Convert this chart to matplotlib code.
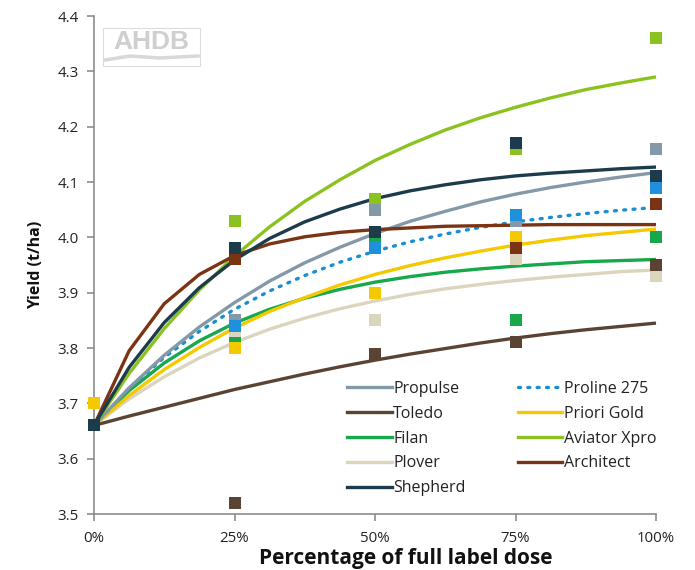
import matplotlib
matplotlib.use("Agg")
import matplotlib.pyplot as plt
from matplotlib.patches import Rectangle
from matplotlib.lines import Line2D

plt.rcParams['font.family'] = ['Open Sans', 'DejaVu Sans']

# ---- data ----
dose_pts = [0, 25, 50, 75, 100]
x_tick_labels = ['0%', '25%', '50%', '75%', '100%']
curve_x = [0, 6.25, 12.5, 18.75, 25, 31.25, 37.5, 43.75, 50,
           56.25, 62.5, 68.75, 75, 81.25, 87.5, 93.75, 100]

names = ['Propulse', 'Proline 275', 'Toledo', 'Priori Gold', 'Filan',
         'Aviator Xpro', 'Plover', 'Architect', 'Shepherd']

# observed yields (markers)
obs_propulse = [3.66, 3.85, 4.05, 4.03, 4.16]
obs_proline = [3.66, 3.84, 3.98, 4.04, 4.09]
obs_toledo = [3.66, 3.52, 3.79, 3.81, 3.95]
obs_priori = [3.70, 3.80, 3.90, 4.00, 3.94]
obs_filan = [3.66, 3.82, 3.99, 3.85, 4.00]
obs_aviator = [3.66, 4.03, 4.07, 4.16, 4.36]
obs_plover = [3.66, 3.83, 3.85, 3.96, 3.93]
obs_architect = [3.66, 3.96, 4.01, 3.98, 4.06]
obs_shepherd = [3.66, 3.98, 4.01, 4.17, 4.11]

# fitted response curves
fit_propulse = [3.66, 3.728, 3.787, 3.838, 3.882, 3.921, 3.954, 3.982, 4.007,
                4.029, 4.047, 4.064, 4.078, 4.090, 4.100, 4.109, 4.117]
fit_proline = [3.66, 3.727, 3.783, 3.830, 3.870, 3.903, 3.931, 3.955, 3.975,
               3.992, 4.006, 4.018, 4.028, 4.036, 4.043, 4.049, 4.054]
fit_toledo = [3.66, 3.677, 3.693, 3.709, 3.725, 3.739, 3.753, 3.766, 3.778,
              3.789, 3.799, 3.809, 3.818, 3.826, 3.833, 3.839, 3.845]
fit_priori = [3.66, 3.714, 3.761, 3.801, 3.836, 3.866, 3.891, 3.914, 3.933,
              3.949, 3.963, 3.975, 3.986, 3.995, 4.003, 4.009, 4.015]
fit_filan = [3.66, 3.723, 3.773, 3.813, 3.845, 3.870, 3.890, 3.906, 3.919,
             3.929, 3.937, 3.943, 3.948, 3.952, 3.956, 3.958, 3.960]
fit_aviator = [3.66, 3.754, 3.835, 3.905, 3.966, 4.019, 4.065, 4.104, 4.139,
               4.168, 4.194, 4.216, 4.235, 4.252, 4.267, 4.279, 4.290]
fit_plover = [3.66, 3.708, 3.748, 3.782, 3.810, 3.834, 3.854, 3.871, 3.885,
              3.897, 3.907, 3.915, 3.922, 3.928, 3.933, 3.938, 3.941]
fit_architect = [3.66, 3.795, 3.880, 3.933, 3.967, 3.988, 4.001, 4.009, 4.014,
                 4.017, 4.020, 4.021, 4.022, 4.023, 4.023, 4.023, 4.023]
fit_shepherd = [3.66, 3.765, 3.846, 3.909, 3.959, 3.998, 4.028, 4.051, 4.070,
                4.084, 4.095, 4.104, 4.111, 4.116, 4.120, 4.124, 4.127]

y_ticks = [3.5, 3.6, 3.7, 3.8, 3.9, 4.0, 4.1, 4.2, 4.3, 4.4]

# ---- styles ----
line_colors = {
    'Propulse': '#8499a8', 'Proline 275': '#1a8fd0', 'Toledo': '#5a4333',
    'Priori Gold': '#f5c900', 'Filan': '#17a84b', 'Aviator Xpro': '#8cc220',
    'Plover': '#dcd5bd', 'Architect': '#7b3413', 'Shepherd': '#1c3b4b'}
marker_colors = dict(line_colors)
marker_colors['Proline 275'] = '#1e90dc'

obs = {'Propulse': obs_propulse, 'Proline 275': obs_proline, 'Toledo': obs_toledo,
       'Priori Gold': obs_priori, 'Filan': obs_filan, 'Aviator Xpro': obs_aviator,
       'Plover': obs_plover, 'Architect': obs_architect, 'Shepherd': obs_shepherd}
fits = {'Propulse': fit_propulse, 'Proline 275': fit_proline, 'Toledo': fit_toledo,
        'Priori Gold': fit_priori, 'Filan': fit_filan, 'Aviator Xpro': fit_aviator,
        'Plover': fit_plover, 'Architect': fit_architect, 'Shepherd': fit_shepherd}

DOT = (0, (0.6, 2.2))

fig = plt.figure(figsize=(6.95, 5.70), dpi=100)
ax = fig.add_axes([94/695, 1-514/570, (656-94)/695, (514-16)/570])

line_order = ['Plover', 'Toledo', 'Filan', 'Priori Gold', 'Proline 275',
              'Propulse', 'Aviator Xpro', 'Architect', 'Shepherd']
for n in line_order:
    if n == 'Proline 275':
        ax.plot(curve_x, fits[n], color=line_colors[n], lw=2.4,
                linestyle=DOT, dash_capstyle='round', zorder=2)
    else:
        ax.plot(curve_x, fits[n], color=line_colors[n], lw=2.4,
                solid_capstyle='butt', solid_joinstyle='round', zorder=2)

marker_order = ['Filan', 'Priori Gold', 'Plover', 'Aviator Xpro', 'Propulse',
                'Proline 275', 'Toledo', 'Architect', 'Shepherd']
for i, n in enumerate(marker_order):
    ax.plot(dose_pts, obs[n], linestyle='none', marker='s', markersize=8.5,
            markerfacecolor=marker_colors[n], markeredgewidth=0, zorder=3 + i * 0.01)

ax.set_xlim(0, 100)
ax.set_ylim(3.5, 4.4)
ax.set_xticks(dose_pts)
ax.set_xticklabels(x_tick_labels)
ax.set_yticks(y_ticks)
ax.set_yticklabels([f'{v:.1f}' for v in y_ticks])
for s in ['top', 'right']:
    ax.spines[s].set_visible(False)
for s in ['left', 'bottom']:
    ax.spines[s].set_color('#8c8c8c')
    ax.spines[s].set_linewidth(1.2)
ax.tick_params(axis='both', colors='#8c8c8c', labelcolor='#222222',
               labelsize=10.8, length=5, width=1.2, direction='out')
ax.tick_params(axis='x', pad=7)
ax.tick_params(axis='y', pad=6)
for l in ax.lines:
    l.set_clip_on(False)

fig.text(406/695, 6/570, 'Percentage of full label dose', ha='center', va='baseline',
         fontsize=15, fontweight='bold', color='#111111')
ax.set_ylabel('Yield (t/ha)', fontsize=11.5, fontweight='bold', color='#111111',
              labelpad=10)

leg_order = ['Propulse', 'Toledo', 'Filan', 'Plover', 'Shepherd',
             'Proline 275', 'Priori Gold', 'Aviator Xpro', 'Architect']
leg_handles = []
for n in leg_order:
    if n == 'Proline 275':
        h = Line2D([], [], color=line_colors[n], lw=2.4, linestyle=DOT,
                   dash_capstyle='round')
    else:
        h = Line2D([], [], color=line_colors[n], lw=2.4)
    leg_handles.append(h)
leg = ax.legend(leg_handles, leg_order, ncol=2, frameon=False, fontsize=11.5,
                loc='upper left', bbox_to_anchor=((347-94)/562, (514-381)/498),
                borderaxespad=0, borderpad=0, handlelength=2.8, handletextpad=0.1,
                labelspacing=0.55, columnspacing=3.25)
for t in leg.get_texts():
    t.set_color('#222222')

# AHDB logo
fig.patches.append(Rectangle((103/695, 1-66/570), 97/695, 38/570,
                             transform=fig.transFigure, facecolor='white',
                             edgecolor='#dddddd', lw=0.8, zorder=5))
fig.text(151/695, 1-42/570, 'AHDB', ha='center', va='center', fontsize=19,
         fontweight='bold', color='#cfcfcf', family=['Liberation Sans', 'DejaVu Sans'],
         zorder=6)
fig.lines.append(Line2D([105/695, 130/695, 160/695, 198/695],
                        [1-60/570, 1-56/570, 1-58/570, 1-56/570],
                        transform=fig.transFigure, color='#d8d8d8', lw=2.5, zorder=6))

fig.savefig('out.png', dpi=100, facecolor='white')
